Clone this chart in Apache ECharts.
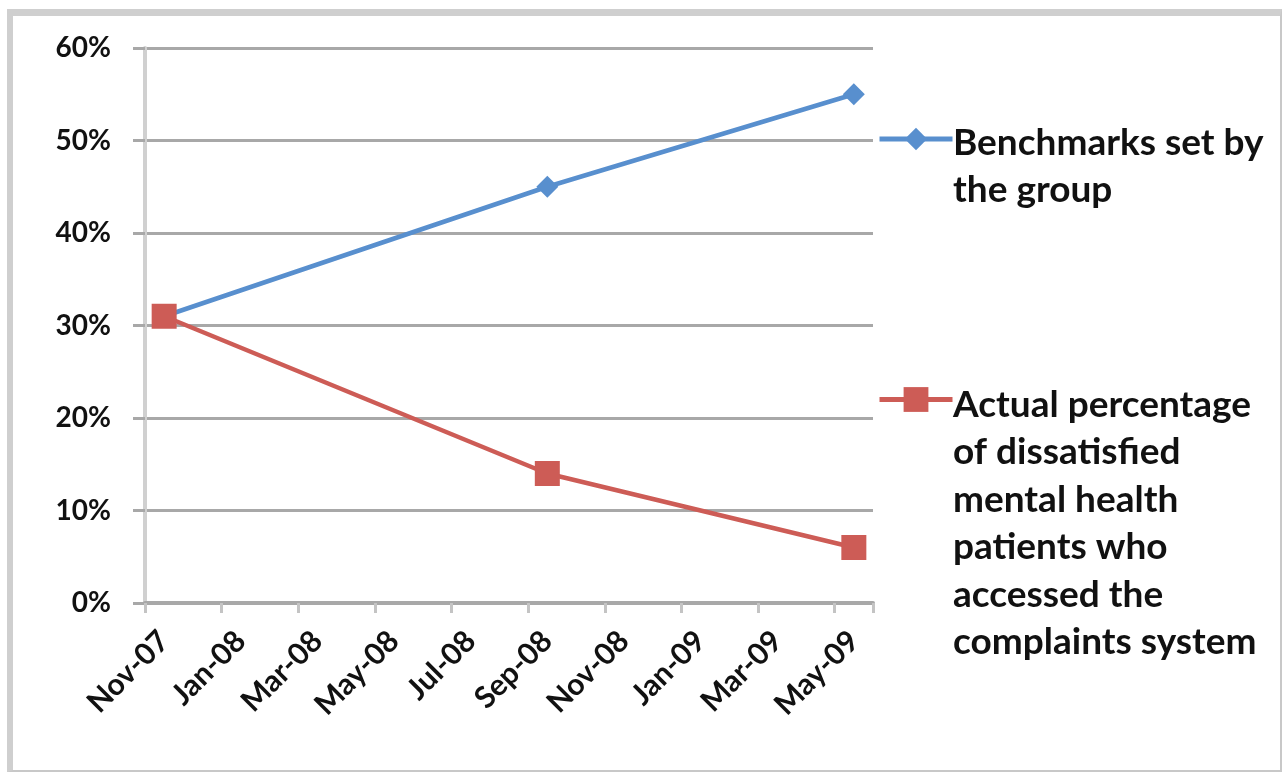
<!DOCTYPE html>
<html>
<head>
<meta charset="utf-8">
<script src="https://cdn.jsdelivr.net/npm/echarts@6/dist/echarts.min.js"></script>
<style>
  html, body { margin: 0; padding: 0; background: #fff; }
  #frame {
    position: absolute; left: 7px; top: 9px; width: 1275px; height: 763px;
    box-sizing: border-box;
    border-left: 6px solid #cfcfcf; border-top: 7px solid #cfcfcf;
    border-right: 2px solid #c8c8c8; border-bottom: 2px solid #c8c8c8;
  }
  #chart { position: absolute; left: 0; top: 0; width: 1282px; height: 772px; }
</style>
</head>
<body>
<div id="frame"></div>
<div id="chart"></div>
<script>
// Monthly date axis, Nov 2007 to May 2009
const months = ['Nov-07', 'Dec-07', 'Jan-08', 'Feb-08', 'Mar-08', 'Apr-08', 'May-08', 'Jun-08',
  'Jul-08', 'Aug-08', 'Sep-08', 'Oct-08', 'Nov-08', 'Dec-08', 'Jan-09', 'Feb-09', 'Mar-09',
  'Apr-09', 'May-09'];
// Months with a measurement
const pointMonths = ['Nov-07', 'Sep-08', 'May-09'];
// Percent values
const benchmark = [31, 45, 55];
const actual = [31, 14, 6];
const yTicks = [0, 10, 20, 30, 40, 50, 60];

const benchmarkName = 'Benchmarks set by\nthe group';
const actualName = 'Actual percentage\nof dissatisfied\nmental health\npatients who\naccessed the\ncomplaints system';

const FONT = 'Lato, "Open Sans", sans-serif';
const BLUE = '#588FCE';
const RED = '#CD5C56';

const chart = echarts.init(document.getElementById('chart'), null, { renderer: 'canvas' });

chart.setOption({
  backgroundColor: 'transparent',
  animation: false,
  grid: { left: 145, right: 409, top: 48, bottom: 169, containLabel: false },
  legend: [
    {
      data: [benchmarkName], left: 877, top: 125, padding: 0,
      itemWidth: 73, itemHeight: 28, formatter: () => '',
      lineStyle: { width: 5 },
      selectedMode: false
    },
    {
      data: [actualName], left: 877, top: 384, padding: 0,
      itemWidth: 73, itemHeight: 31, formatter: () => '',
      lineStyle: { width: 5 },
      selectedMode: false
    }
  ],
  xAxis: {
    type: 'category',
    data: months,
    boundaryGap: true,
    axisLine: { lineStyle: { color: '#a8a8a8', width: 4 } },
    axisTick: { show: true, interval: 1, length: 10, lineStyle: { color: '#c4c4c4', width: 3 } },
    axisLabel: {
      interval: 1, rotate: 45, margin: 33,
      fontFamily: FONT, fontSize: 30, fontWeight: 'bold', color: '#111'
    },
    splitLine: { show: false }
  },
  yAxis: {
    type: 'value',
    min: yTicks[0], max: yTicks[yTicks.length - 1], interval: 10,
    axisLine: { show: true, lineStyle: { color: '#d0d0d0', width: 4 } },
    axisTick: { show: true, length: 12, lineStyle: { color: '#a8a8a8', width: 3 } },
    axisLabel: {
      formatter: '{value}%', margin: 34,
      fontFamily: FONT, fontSize: 28, fontWeight: 'bold', color: '#111'
    },
    splitLine: { show: true, lineStyle: { color: '#a8a8a8', width: 3 } }
  },
  series: [
    {
      name: benchmarkName,
      type: 'line',
      data: pointMonths.map((m, i) => [m, benchmark[i]]),
      symbol: 'diamond', symbolSize: 22,
      lineStyle: { color: BLUE, width: 4.5 },
      itemStyle: { color: BLUE }
    },
    {
      name: actualName,
      type: 'line',
      data: pointMonths.map((m, i) => [m, actual[i]]),
      symbol: 'rect', symbolSize: 25,
      lineStyle: { color: RED, width: 4.5 },
      itemStyle: { color: RED }
    }
  ],
  graphic: [
    {
      type: 'text', left: 953, top: 119,
      style: { text: benchmarkName, font: 'bold 37px ' + FONT, lineHeight: 47.5, fill: '#111' }
    },
    {
      type: 'text', left: 953, top: 381,
      style: { text: actualName, font: 'bold 37px ' + FONT, lineHeight: 47.5, fill: '#111' }
    }
  ]
});
</script>
</body>
</html>
